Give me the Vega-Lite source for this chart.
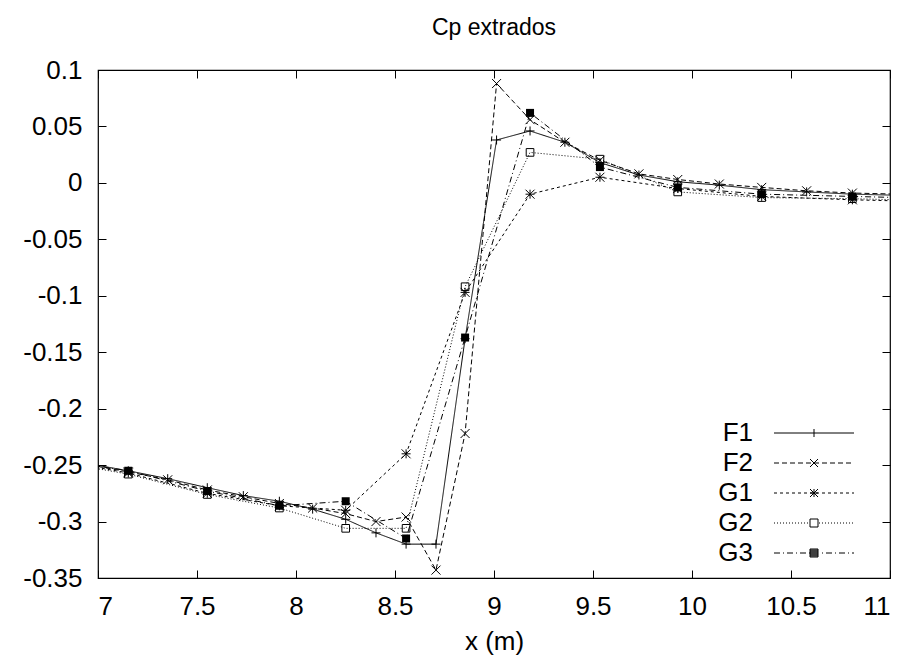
{
  "$schema": "https://vega.github.io/schema/vega-lite/v6.json",
  "autosize": {"type": "none"},
  "width": 792,
  "height": 508,
  "padding": {"left": 98, "top": 70, "right": 21, "bottom": 89},
  "background": "white",
  "title": {"text": "Cp extrados", "fontSize": 23, "fontWeight": "normal", "font": "Liberation Sans", "color": "black", "offset": 17},
  "config": {
    "view": {"stroke": "black", "strokeWidth": 1.2},
    "axis": {"labelFont": "Liberation Sans", "labelFontSize": 26, "labelColor": "black", "titleFont": "Liberation Sans", "titleFontSize": 26, "titleFontWeight": "normal", "titleColor": "black", "grid": false, "domain": false, "tickColor": "black", "tickSize": -8, "tickWidth": 1},
    "legend": {"labelFont": "Liberation Sans", "labelFontSize": 26, "labelColor": "black"}
  },
  "data": {"values": [
    {"x": 6.96, "y": -0.249, "s": "F1"}, {"x": 7.153, "y": -0.255, "s": "F1"}, {"x": 7.352, "y": -0.262, "s": "F1"}, {"x": 7.552, "y": -0.270, "s": "F1"}, {"x": 7.734, "y": -0.277, "s": "F1"}, {"x": 7.916, "y": -0.282, "s": "F1"}, {"x": 8.084, "y": -0.289, "s": "F1"}, {"x": 8.251, "y": -0.298, "s": "F1"}, {"x": 8.404, "y": -0.310, "s": "F1"}, {"x": 8.556, "y": -0.320, "s": "F1"}, {"x": 8.707, "y": -0.320, "s": "F1"}, {"x": 8.854, "y": -0.138, "s": "F1"}, {"x": 9.013, "y": 0.038, "s": "F1"}, {"x": 9.182, "y": 0.046, "s": "F1"}, {"x": 9.358, "y": 0.036, "s": "F1"}, {"x": 9.535, "y": 0.018, "s": "F1"}, {"x": 9.732, "y": 0.007, "s": "F1"}, {"x": 9.928, "y": 0.001, "s": "F1"}, {"x": 10.138, "y": -0.002, "s": "F1"}, {"x": 10.352, "y": -0.006, "s": "F1"}, {"x": 10.579, "y": -0.008, "s": "F1"}, {"x": 10.81, "y": -0.010, "s": "F1"}, {"x": 11.05, "y": -0.011, "s": "F1"},
    {"x": 6.96, "y": -0.250, "s": "F2"}, {"x": 7.153, "y": -0.256, "s": "F2"}, {"x": 7.352, "y": -0.263, "s": "F2"}, {"x": 7.552, "y": -0.272, "s": "F2"}, {"x": 7.734, "y": -0.278, "s": "F2"}, {"x": 7.916, "y": -0.284, "s": "F2"}, {"x": 8.084, "y": -0.288, "s": "F2"}, {"x": 8.251, "y": -0.293, "s": "F2"}, {"x": 8.404, "y": -0.300, "s": "F2"}, {"x": 8.556, "y": -0.296, "s": "F2"}, {"x": 8.707, "y": -0.343, "s": "F2"}, {"x": 8.854, "y": -0.222, "s": "F2"}, {"x": 9.013, "y": 0.088, "s": "F2"}, {"x": 9.182, "y": 0.056, "s": "F2"}, {"x": 9.358, "y": 0.036, "s": "F2"}, {"x": 9.535, "y": 0.020, "s": "F2"}, {"x": 9.732, "y": 0.008, "s": "F2"}, {"x": 9.928, "y": 0.003, "s": "F2"}, {"x": 10.138, "y": -0.001, "s": "F2"}, {"x": 10.352, "y": -0.004, "s": "F2"}, {"x": 10.579, "y": -0.007, "s": "F2"}, {"x": 10.81, "y": -0.009, "s": "F2"}, {"x": 11.05, "y": -0.010, "s": "F2"},
    {"x": 6.96, "y": -0.251, "s": "G1"}, {"x": 7.153, "y": -0.257, "s": "G1"}, {"x": 7.552, "y": -0.275, "s": "G1"}, {"x": 7.916, "y": -0.286, "s": "G1"}, {"x": 8.251, "y": -0.290, "s": "G1"}, {"x": 8.556, "y": -0.240, "s": "G1"}, {"x": 8.854, "y": -0.097, "s": "G1"}, {"x": 9.182, "y": -0.010, "s": "G1"}, {"x": 9.535, "y": 0.005, "s": "G1"}, {"x": 9.928, "y": -0.005, "s": "G1"}, {"x": 10.352, "y": -0.012, "s": "G1"}, {"x": 10.81, "y": -0.015, "s": "G1"}, {"x": 11.05, "y": -0.016, "s": "G1"},
    {"x": 6.96, "y": -0.252, "s": "G2"}, {"x": 7.153, "y": -0.258, "s": "G2"}, {"x": 7.552, "y": -0.276, "s": "G2"}, {"x": 7.916, "y": -0.288, "s": "G2"}, {"x": 8.251, "y": -0.306, "s": "G2"}, {"x": 8.556, "y": -0.306, "s": "G2"}, {"x": 8.854, "y": -0.092, "s": "G2"}, {"x": 9.182, "y": 0.027, "s": "G2"}, {"x": 9.535, "y": 0.021, "s": "G2"}, {"x": 9.928, "y": -0.008, "s": "G2"}, {"x": 10.352, "y": -0.013, "s": "G2"}, {"x": 10.81, "y": -0.014, "s": "G2"}, {"x": 11.05, "y": -0.015, "s": "G2"},
    {"x": 6.96, "y": -0.250, "s": "G3"}, {"x": 7.153, "y": -0.255, "s": "G3"}, {"x": 7.552, "y": -0.273, "s": "G3"}, {"x": 7.916, "y": -0.286, "s": "G3"}, {"x": 8.251, "y": -0.282, "s": "G3"}, {"x": 8.556, "y": -0.315, "s": "G3"}, {"x": 8.854, "y": -0.137, "s": "G3"}, {"x": 9.182, "y": 0.062, "s": "G3"}, {"x": 9.535, "y": 0.014, "s": "G3"}, {"x": 9.928, "y": -0.004, "s": "G3"}, {"x": 10.352, "y": -0.010, "s": "G3"}, {"x": 10.81, "y": -0.012, "s": "G3"}, {"x": 11.05, "y": -0.013, "s": "G3"}
  ]},
  "resolve": {"axis": {"x": "independent", "y": "independent"}, "scale": {"shape": "independent"}},
  "layer": [
    {
      "mark": {"type": "line", "color": "black", "strokeWidth": 1, "clip": true},
      "encoding": {
        "x": {"field": "x", "type": "quantitative", "scale": {"domain": [7, 11], "nice": false, "zero": false},
              "axis": {"orient": "bottom", "title": "x (m)", "values": [7, 7.5, 8, 8.5, 9, 9.5, 10, 10.5, 11], "format": "~g", "labelPadding": 23, "titlePadding": 9}},
        "y": {"field": "y", "type": "quantitative", "scale": {"domain": [-0.35, 0.1], "nice": false, "zero": false},
              "axis": {"orient": "left", "title": null, "values": [-0.35, -0.3, -0.25, -0.2, -0.15, -0.1, -0.05, 0, 0.05, 0.1], "format": "~g", "labelExpr": "replace(datum.label, '\u2212', '-')", "labelPadding": 24}},
        "strokeDash": {"field": "s", "type": "nominal", "legend": null,
          "scale": {"domain": ["F1", "F2", "G1", "G2", "G3"], "range": [[1, 0], [5, 3], [3, 3], [1, 2], [6, 3, 1, 3]]}}
      }
    },
    {
      "transform": [{"filter": "datum.s !== 'G3'"}],
      "mark": {"type": "point", "filled": false, "stroke": "black", "strokeWidth": 1, "size": 81, "opacity": 1, "clip": true},
      "encoding": {
        "x": {"field": "x", "type": "quantitative", "axis": {"orient": "top", "title": null, "labels": false, "values": [7, 7.5, 8, 8.5, 9, 9.5, 10, 10.5, 11]}},
        "y": {"field": "y", "type": "quantitative", "axis": {"orient": "right", "title": null, "labels": false, "values": [-0.35, -0.3, -0.25, -0.2, -0.15, -0.1, -0.05, 0, 0.05, 0.1]}},
        "shape": {"field": "s", "type": "nominal", "legend": null,
          "scale": {"domain": ["F1", "F2", "G1", "G2"], "range": ["M-1,0H1M0,-1V1", "M-1,-1L1,1M-1,1L1,-1", "M-1,0H1M0,-1V1M-1,-1L1,1M-1,1L1,-1", "M-0.85,-0.85H0.85V0.85H-0.85Z"]}}
      }
    },
    {
      "transform": [{"filter": "datum.s === 'G3'"}],
      "mark": {"type": "point", "shape": "square", "filled": true, "color": "black", "size": 64, "opacity": 1, "clip": true},
      "encoding": {
        "x": {"field": "x", "type": "quantitative", "axis": null},
        "y": {"field": "y", "type": "quantitative", "axis": null}
      }
    },
    {
      "mark": {"type": "point", "filled": false, "stroke": "black", "strokeWidth": 1, "opacity": 0, "clip": true},
      "encoding": {
        "x": {"field": "x", "type": "quantitative", "axis": null},
        "y": {"field": "y", "type": "quantitative", "axis": null},
        "shape": {"field": "s", "type": "nominal",
          "scale": {"domain": ["F1", "F2", "G1", "G2", "G3"], "range": [
            "M-8,0H8M0,-0.8V0.8",
            "M-8,0H-7M-6.4,0H-5.4M-4.8,0H-3.8M-3.2,0H-2.2M-1.6,0H-0.6M0,0H1M1.6,0H2.6M3.2,0H4.2M4.8,0H5.8M6.4,0H7.4M-0.8,-0.8L0.8,0.8M-0.8,0.8L0.8,-0.8",
            "M-8,0H-7.4M-6.8,0H-6.2M-5.6,0H-5M-4.4,0H-3.8M-3.2,0H-2.6M-2,0H-1.4M-0.8,0H-0.2M0.4,0H1M1.6,0H2.2M2.8,0H3.4M4,0H4.6M5.2,0H5.8M6.4,0H7M7.6,0H8M-0.8,0H0.8M0,-0.8V0.8M-0.8,-0.8L0.8,0.8M-0.8,0.8L0.8,-0.8",
            "M-8,0h0.2M-7.4,0h0.2M-6.8,0h0.2M-6.2,0h0.2M-5.6,0h0.2M-5,0h0.2M-4.4,0h0.2M-3.8,0h0.2M-3.2,0h0.2M-2.6,0h0.2M-2,0h0.2M-1.4,0h0.2M1,0h0.2M1.6,0h0.2M2.2,0h0.2M2.8,0h0.2M3.4,0h0.2M4,0h0.2M4.6,0h0.2M5.2,0h0.2M5.8,0h0.2M6.4,0h0.2M7,0h0.2M7.6,0h0.2M-0.8,-0.8H0.8V0.8H-0.8Z",
            "M-8,0H-6.8M-6.2,0H-6M-5.4,0H-4.2M-3.6,0H-3.4M-2.8,0H-1.6M-1,0H-0.8M1.6,0H1.8M2.4,0H3.6M4.2,0H4.4M5,0H6.2M6.8,0H7M7.6,0H8M-0.8,-0.8H0.8V0.8H-0.8ZM-0.8,-0.6H0.8M-0.8,-0.4H0.8M-0.8,-0.2H0.8M-0.8,0H0.8M-0.8,0.2H0.8M-0.8,0.4H0.8M-0.8,0.6H0.8"
          ]},
          "legend": {"title": null, "orient": "none", "legendX": 703, "legendY": 350, "symbolSize": 100, "symbolOpacity": 1, "symbolStrokeWidth": 1, "symbolStrokeColor": "black", "symbolFillColor": "transparent", "labelAlign": "right", "labelOffset": -74, "rowPadding": 4, "labelLimit": 0}
        }
      }
    }
  ]
}
